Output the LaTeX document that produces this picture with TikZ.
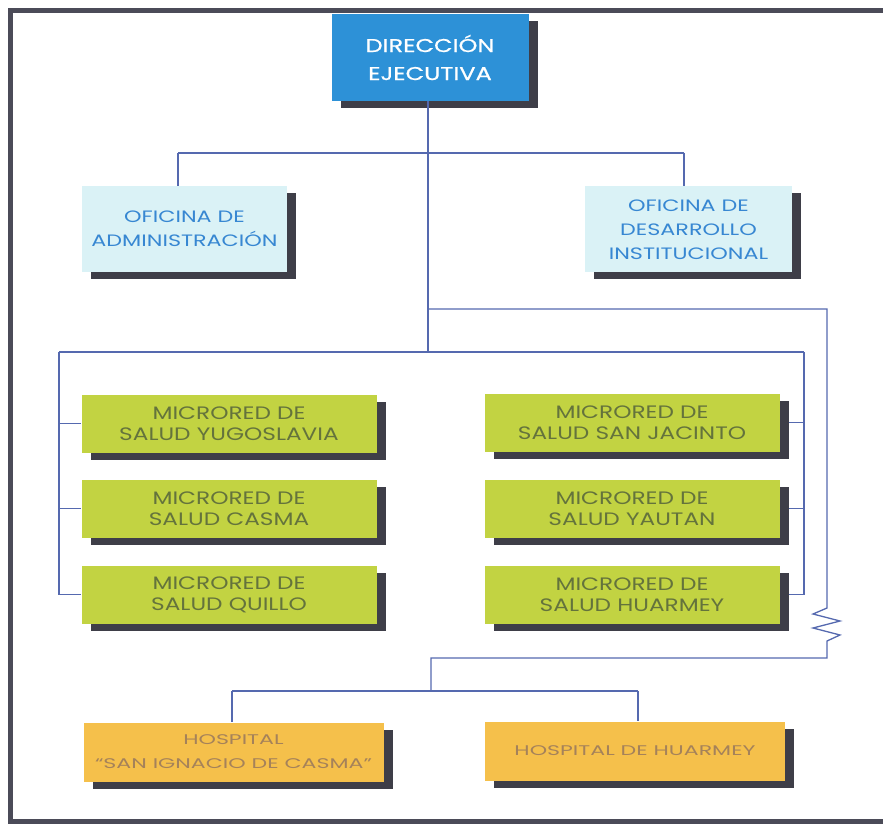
\documentclass[tikz,border=0pt]{standalone}
\usepackage{fontspec}
\setmainfont{Poppins}
\newfontfamily\fdir[FakeStretch=1.3,FakeBold=0.8]{Poppins}
\newfontfamily\fcyan[FakeStretch=1.35]{Poppins}
\newfontfamily\fgreen[FakeStretch=1.29]{Poppins}
\newfontfamily\fhosp[FakeStretch=1.58]{Poppins}
\usetikzlibrary{shadows}
\definecolor{framecol}{RGB}{75,75,88}
\definecolor{shadowcol}{RGB}{62,62,72}
\definecolor{linecol}{RGB}{85,105,175}
\definecolor{dirfill}{RGB}{45,145,215}
\definecolor{cyanfill}{RGB}{218,242,246}
\definecolor{cyantext}{RGB}{55,135,210}
\definecolor{greenfill}{RGB}{194,211,66}
\definecolor{greentext}{RGB}{100,115,60}
\definecolor{orangefill}{RGB}{245,192,75}
\definecolor{orangetext}{RGB}{165,130,90}
\tikzset{
  box/.style={rectangle, inner sep=0pt, align=center,
    drop shadow={shadow xshift=9pt, shadow yshift=-7pt, fill=shadowcol, opacity=1}},
  dirbox/.style={box, fill=dirfill, text=white, minimum width=197pt, minimum height=87pt,
    font=\fdir\fontsize{18.5}{28}\selectfont},
  cyanbox/.style={box, fill=cyanfill, text=cyantext, minimum height=86pt,
    font=\fcyan\fontsize{16.5}{24}\selectfont},
  greenbox/.style={box, fill=greenfill, text=greentext, minimum width=295pt, minimum height=58pt,
    font=\fgreen\fontsize{18}{21}\selectfont},
  hospbox/.style={box, fill=orangefill, text=orangetext, minimum width=300pt, minimum height=59pt,
    font=\fhosp\fontsize{14}{24}\selectfont},
  conn/.style={draw=linecol, line width=1.3pt},
}
\begin{document}
\begin{tikzpicture}[x=1pt,y=-1pt]
\useasboundingbox (0,0) rectangle (883,826);
\begin{scope}
\clip (0,0) rectangle (883,826);
\draw[framecol, line width=5pt] (890,11) -- (10,11) -- (10,821) -- (890,821);
\end{scope}

% coordinates of connector junctions
\coordinate (tl) at (178,153);
\coordinate (tr) at (684,153);
\coordinate (bc) at (428,352);
\coordinate (bl) at (59,352);
\coordinate (br) at (804,352);
\coordinate (r0) at (428,309);
\coordinate (r1) at (827,309);
\coordinate (z0) at (827,608);
\coordinate (z1) at (813,614);
\coordinate (z2) at (840,621);
\coordinate (z3) at (813,628);
\coordinate (z4) at (840,635);
\coordinate (z5) at (827,641);
\coordinate (r2) at (827,658);
\coordinate (h0) at (431,658);
\coordinate (h1) at (431,691);
\coordinate (hl) at (232,691);
\coordinate (hr) at (638,691);

% boxes
\node[dirbox] (dir) at (430,57.5) {DIRECCIÓN\\EJECUTIVA};
\node[cyanbox, minimum width=205pt] (adm) at (184.5,229) {OFICINA DE\\ADMINISTRACIÓN};
\node[cyanbox, minimum width=207pt] (des) at (688.5,229.5) {OFICINA DE\\DESARROLLO\\INSTITUCIONAL};

\node[greenbox] (m1) at (229,423.5) {MICRORED DE\\SALUD YUGOSLAVIA};
\node[greenbox] (m2) at (229,508.5) {MICRORED DE\\SALUD CASMA};
\node[greenbox] (m3) at (229,594.5) {MICRORED DE\\SALUD QUILLO};
\node[greenbox] (m4) at (632,422.5) {MICRORED DE\\SALUD SAN JACINTO};
\node[greenbox] (m5) at (632,508.5) {MICRORED DE\\SALUD YAUTAN};
\node[greenbox] (m6) at (632,594.5) {MICRORED DE\\SALUD HUARMEY};

\node[hospbox] (h1n) at (233.5,752) {HOSPITAL\\“SAN IGNACIO DE CASMA”};
\node[hospbox] (h2n) at (635,751) {HOSPITAL DE HUARMEY};

% connectors
\draw[conn] (dir.south -| bc) -- (bc);
\draw[conn] (tl) -- (tr);
\draw[conn] (tl) -- (tl |- adm.north);
\draw[conn] (tr) -- (tr |- des.north);
\draw[conn] (r0) -- (r1) -- (z0) -- (z1) -- (z2) -- (z3) -- (z4) -- (z5) -- (r2) -- (h0) -- (h1);
\draw[conn] (bl) -- (br);
\draw[conn] (bl) |- (m3.west);
\draw[conn] (m1.west -| bl) -- (m1.west);
\draw[conn] (m2.west -| bl) -- (m2.west);
\draw[conn] (br) -- (br |- m6.east) -- ([xshift=9pt]m6.east);
\draw[conn] (m4.east -| br) -- ([xshift=9pt]m4.east);
\draw[conn] (m5.east -| br) -- ([xshift=9pt]m5.east);
\draw[conn] (hl) -- (hr);
\draw[conn] (hl) -- (hl |- h1n.north);
\draw[conn] (hr) -- (hr |- h2n.north);
\end{tikzpicture}
\end{document}
